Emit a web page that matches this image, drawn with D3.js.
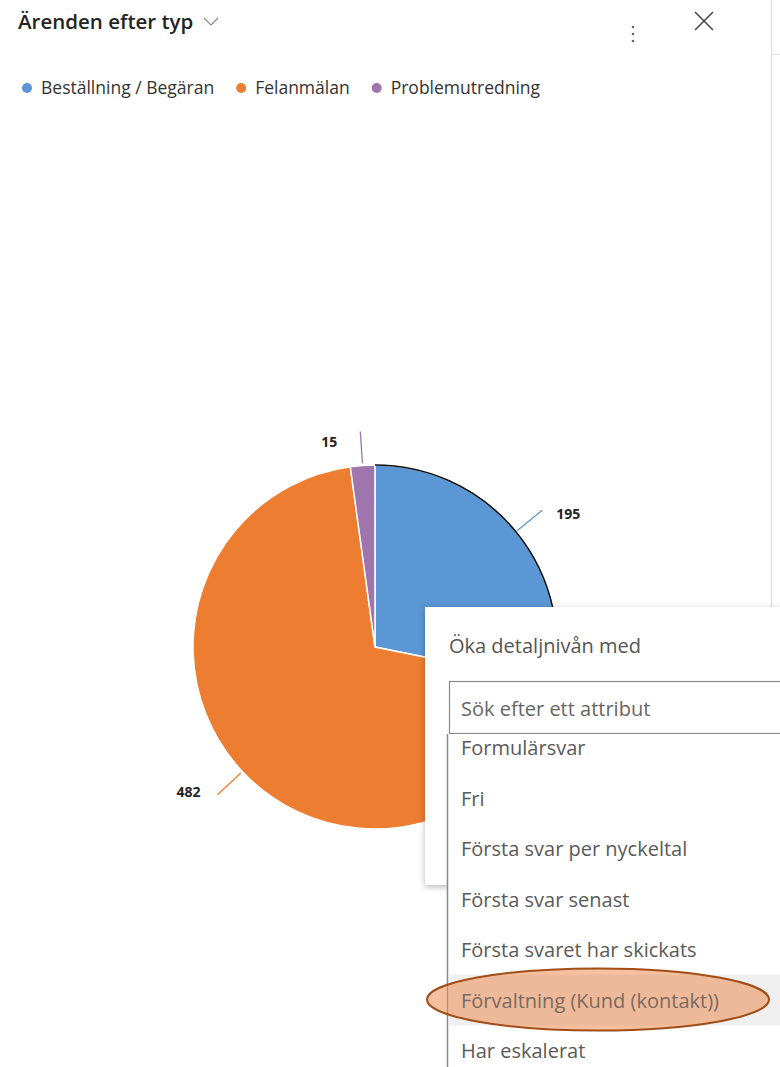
<!DOCTYPE html>
<html><head><meta charset="utf-8">
<script src="https://cdn.jsdelivr.net/npm/d3@7"></script>
<style>
html,body{margin:0;padding:0;background:#fff;}
svg{display:block;font-family:"Open Sans","Noto Sans",sans-serif;}
</style></head>
<body>
<script>
const title = "Ärenden efter typ";
const categories = ["Beställning / Begäran", "Felanmälan", "Problemutredning"];
const values = [195, 482, 15];
const colors = ["#5B97D5", "#ED7D31", "#A074AC"];
const menuTitle = "Öka detaljnivån med";
const searchPlaceholder = "Sök efter ett attribut";
const menuItems = ["Formulärsvar", "Fri", "Första svar per nyckeltal", "Första svar senast", "Första svaret har skickats", "Förvaltning (Kund (kontakt))", "Har eskalerat"];
const highlightedItem = "Förvaltning (Kund (kontakt))";

const W = 780, H = 1067;
const svg = d3.select("body").append("svg").attr("width", W).attr("height", H);
const defs = svg.append("defs");
const f = defs.append("filter").attr("id","sh").attr("x","-10%").attr("y","-10%").attr("width","130%").attr("height","130%");
f.append("feDropShadow").attr("dx",0).attr("dy",2).attr("stdDeviation",3).attr("flood-color","#000").attr("flood-opacity",0.28);

// panel border right
svg.append("line").attr("x1",771.5).attr("x2",771.5).attr("y1",0).attr("y2",H).attr("stroke","#e1e1e1").attr("stroke-width",1.5);
svg.append("line").attr("x1",772).attr("x2",780).attr("y1",54.5).attr("y2",54.5).attr("stroke","#e1e1e1");

// title
svg.append("text").attr("x",18).attr("y",29).attr("font-size",20.5).attr("font-weight",600).attr("fill","#252423").text(title);
svg.append("path").attr("d","M204,18 L211,25 L218,18").attr("fill","none").attr("stroke","#888").attr("stroke-width",1.2);
// more dots
[27,34,41].forEach(y=>svg.append("circle").attr("cx",633).attr("cy",y).attr("r",1.3).attr("fill","#666"));
// close X
svg.append("path").attr("d","M695,12 L713,30 M713,12 L695,30").attr("stroke","#444").attr("stroke-width",1.5);

// legend
const lg = svg.append("g").attr("transform","translate(0,88)");
let lx = 22;
categories.forEach((c,i)=>{
  lg.append("circle").attr("cx",lx+5).attr("cy",0).attr("r",5).attr("fill",colors[i]);
  const t = lg.append("text").attr("x",lx+19).attr("y",6).attr("font-size",17.5).attr("fill","#333").text(c);
  lx += 19 + t.node().getComputedTextLength() + 22;
});

// pie
const cx = 375, cy = 647, R = 182;
const pie = d3.pie().sort(null).value(d=>d)(values);
const arc = d3.arc().innerRadius(0).outerRadius(R);
const g = svg.append("g").attr("transform",`translate(${cx},${cy})`);
g.selectAll("path.s").data(pie).join("path").attr("class","s")
  .attr("d",arc).attr("fill",(d,i)=>colors[i]).attr("stroke","#fff").attr("stroke-width",1.5);
// selected outline on first slice
g.append("path").attr("d", d3.arc().innerRadius(R).outerRadius(R).startAngle(pie[0].startAngle).endAngle(pie[0].endAngle)())
  .attr("fill","none").attr("stroke","#111").attr("stroke-width",1.6);
// leaders & labels
const inA = d3.arc().innerRadius(R+2).outerRadius(R+2);
const outA = d3.arc().innerRadius(R+34).outerRadius(R+34);
pie.forEach((d,i)=>{
  const a = inA.centroid(d), b = outA.centroid(d);
  g.append("line").attr("x1",a[0]).attr("y1",a[1]).attr("x2",b[0]).attr("y2",b[1]).attr("stroke",colors[i]).attr("stroke-width",1.3);
  const right = b[0] > 0;
  const top = Math.abs(b[0]) < 30;
  g.append("text").attr("x", b[0] + (right?14:(top?-23:-17))).attr("y", b[1]+ (right?9:(top?15:2)))
    .attr("text-anchor", right?"start":"end").attr("font-size",14).attr("font-weight",700).attr("fill","#252423").text(d.data);
});

// popup
svg.append("rect").attr("x",425).attr("y",607).attr("width",380).attr("height",278).attr("fill","#fff").attr("filter","url(#sh)");
svg.append("text").attr("x",449).attr("y",653).attr("font-size",20).attr("fill","#555").text(menuTitle);
svg.append("rect").attr("x",449.5).attr("y",681.5).attr("width",360).attr("height",52).attr("fill","#fff").attr("stroke","#8a8a8a").attr("stroke-width",1.2);
svg.append("text").attr("x",461).attr("y",716).attr("font-size",20).attr("fill","#666").text(searchPlaceholder);

// dropdown list
const listTop = 734;
svg.append("rect").attr("x",447).attr("y",listTop).attr("width",360).attr("height",H-listTop).attr("fill","#fff");
svg.append("line").attr("x1",447.5).attr("x2",447.5).attr("y1",listTop).attr("y2",H).attr("stroke","#8a8a8a").attr("stroke-width",1.5);
const step = 50.5, first = 748;
const y = d3.scalePoint().domain(menuItems).range([first, first + step*(menuItems.length-1)]);
const hy = y(highlightedItem);
svg.append("rect").attr("x",449).attr("y",hy-26).attr("width",331).attr("height",51).attr("fill","#efefef");
svg.append("ellipse").attr("cx",598).attr("cy",hy-1).attr("rx",171).attr("ry",31)
  .attr("fill","rgba(236,140,80,0.55)").attr("stroke","#A14D16").attr("stroke-width",2);
svg.selectAll("text.it").data(menuItems).join("text").attr("class","it")
  .attr("x",461).attr("y",d=>y(d)+7).attr("font-size",20)
  .attr("fill",d=>d===highlightedItem?"#7a6a60":"#5a5a5a").text(d=>d);
</script>
</body></html>
